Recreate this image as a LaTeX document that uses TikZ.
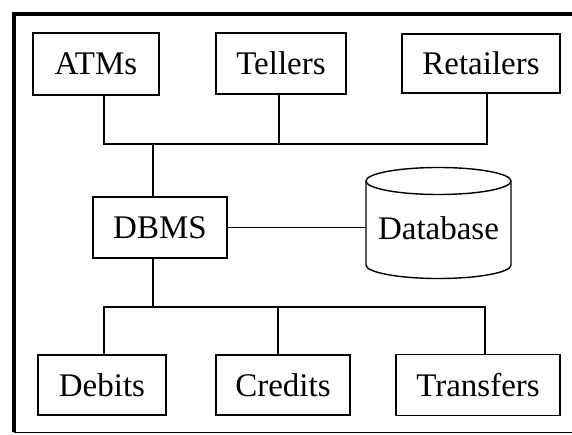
\documentclass[tikz,border=0pt]{standalone}
\usepackage{fontspec}
\setmainfont{Liberation Serif}
\begin{document}
\begin{tikzpicture}[x=1pt,y=-1pt,
  lbl/.style={font=\fontsize{33}{38}\selectfont},
  box/.style={draw,line width=1.4pt,inner sep=0pt,lbl},
  conn/.style={line width=1.3pt},
  frame/.style={line width=3.5pt}]
\useasboundingbox (0,0) rectangle (572,435);
% frame
\draw[frame] (14,432) -- (14,14) -- (572,14);
\draw[line width=1.8pt] (14,432.5) -- (572,432.5);
% top row
\node[box,minimum width=126pt,minimum height=62pt] (atms) at (96,64) {ATMs};
\node[box,minimum width=130pt,minimum height=61pt] (tel) at (281,63.5) {Tellers};
\node[box,minimum width=158pt,minimum height=59pt] (ret) at (481,63.5) {Retailers};
% middle
\node[box,minimum width=134pt,minimum height=61pt] (dbms) at (160,227.5) {DBMS};
\node[inner sep=0pt,minimum width=145pt,minimum height=60pt,lbl] (db) at (438.5,228) {Database};
\draw[line width=1.4pt] (438.5,181) ellipse [x radius=72.5pt, y radius=13.5pt];
\draw[line width=1.4pt] (366,181) -- (366,265) arc[start angle=180,end angle=360,x radius=72.5pt,y radius=13.5pt] -- (511,181);
% bottom row
\node[box,minimum width=128pt,minimum height=60pt] (deb) at (102,385) {Debits};
\node[box,minimum width=134pt,minimum height=60pt] (cre) at (283,385) {Credits};
\node[box,minimum width=164pt,minimum height=61pt] (tra) at (478,385) {Transfers};
% connectors
\coordinate (tbus) at (153,144);
\coordinate (bbus) at (153,307);
\draw[conn] ([xshift=8pt]atms.south) |- ([xshift=6pt]ret.south |- tbus) -- ([xshift=6pt]ret.south);
\draw[conn] ([xshift=-2pt]tel.south) -- ([xshift=-2pt]tel.south |- tbus);
\draw[conn] (tbus) -- (dbms.north -| tbus);
\draw[conn] (dbms.east) -- (db.west |- dbms.east);
\draw[conn] (dbms.south -| bbus) -- (bbus);
\draw[conn] ([xshift=2pt]deb.north) |- ([xshift=7pt]tra.north |- bbus) -- ([xshift=7pt]tra.north);
\draw[conn] ([xshift=-5pt]cre.north) -- ([xshift=-5pt]cre.north |- bbus);
\end{tikzpicture}
\end{document}
